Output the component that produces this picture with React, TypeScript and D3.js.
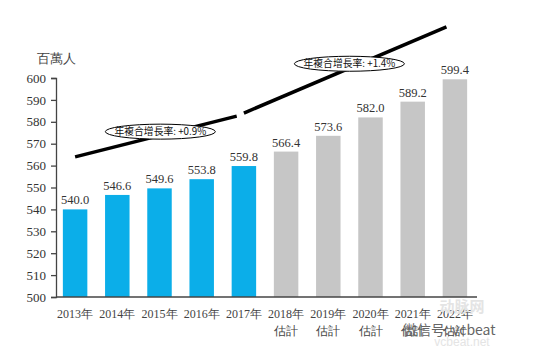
//@ts-nocheck
import React, { useRef, useEffect } from "react";
import * as d3 from "d3";

const years = ["2013年", "2014年", "2015年", "2016年", "2017年", "2018年", "2019年", "2020年", "2021年", "2022年"];
const subLabels = ["", "", "", "", "", "估計", "估計", "估計", "估計", "估計"];
const values = [540.0, 546.6, 549.6, 553.8, 559.8, 566.4, 573.6, 582.0, 589.2, 599.4];
const isEstimate = [false, false, false, false, false, true, true, true, true, true];
const yTicks = [500, 510, 520, 530, 540, 550, 560, 570, 580, 590, 600];

// trend lines, as [category index, value]
const trendActual = [[0, 564], [3.83, 582.6]];
const trendForecast = [[4, 584], [8.8, 623.3]];
const notes = [
  { text: "年複合增長率: +0.9%", at: 2.02, v: 575.5 },
  { text: "年複合增長率: +1.4%", at: 6.5, v: 606.5 },
];

export default function App() {
  const svgRef = useRef(null);

  useEffect(() => {
    const svg = d3.select(svgRef.current);
    svg.selectAll("*").remove();

    const serif = "'Liberation Serif', 'DejaVu Serif', serif";
    const cjk = "'Noto Sans CJK TC', 'Noto Sans CJK SC', sans-serif";

    const x = d3.scaleBand().domain(years).range([54, 476]).paddingInner(0.42).paddingOuter(0.21);
    const y = d3.scaleLinear().domain([500, 600]).range([297, 78]);
    const xi = d3.scaleLinear().domain([0, 9]).range([x(years[0]) + x.bandwidth() / 2, x(years[9]) + x.bandwidth() / 2]);

    // bars
    svg
      .append("g")
      .selectAll("rect")
      .data(values)
      .join("rect")
      .attr("x", (d, i) => x(years[i]))
      .attr("y", (d) => y(d))
      .attr("width", x.bandwidth())
      .attr("height", (d) => y(500) - y(d))
      .attr("fill", (d, i) => (isEstimate[i] ? "#C6C6C6" : "#0BAEE9"));

    svg
      .append("g")
      .selectAll("text")
      .data(values)
      .join("text")
      .attr("x", (d, i) => x(years[i]) + x.bandwidth() / 2)
      .attr("y", (d) => y(d) - 5)
      .attr("text-anchor", "middle")
      .attr("font-family", serif)
      .attr("font-size", 12.5)
      .attr("fill", "#333")
      .text((d) => d.toFixed(1));

    // y axis
    const yAxis = svg
      .append("g")
      .attr("transform", "translate(56,0)")
      .call(d3.axisLeft(y).tickValues(yTicks).tickSize(5).tickPadding(5));
    yAxis.attr("font-family", serif).attr("font-size", 13);
    yAxis.select(".domain").attr("stroke", "#444").attr("stroke-width", 1.3);
    yAxis.selectAll(".tick line").attr("stroke", "#444").attr("stroke-width", 1.3);
    yAxis.selectAll(".tick text").attr("fill", "#333");

    // x axis line
    svg
      .append("line")
      .attr("x1", 56)
      .attr("x2", 477)
      .attr("y1", y(500))
      .attr("y2", y(500))
      .attr("stroke", "#444")
      .attr("stroke-width", 1.3);

    const xl = svg.append("g").attr("font-family", serif).attr("fill", "#444").attr("text-anchor", "middle");
    years.forEach((yr, i) => {
      const cx = x(yr) + x.bandwidth() / 2;
      xl.append("text").attr("x", cx).attr("y", 318).attr("font-size", 12).text(yr);
      if (subLabels[i])
        xl.append("text").attr("x", cx).attr("y", 335).attr("font-size", 11.5).text(subLabels[i]);
    });

    // y title
    svg
      .append("text")
      .attr("x", 56)
      .attr("y", 63)
      .attr("text-anchor", "middle")
      .attr("font-family", serif)
      .attr("font-size", 13)
      .attr("fill", "#444")
      .text("百萬人");

    // trend lines
    const line = d3
      .line()
      .x((d) => xi(d[0]))
      .y((d) => y(d[1]));
    [trendActual, trendForecast].forEach((t) =>
      svg.append("path").attr("d", line(t)).attr("fill", "none").attr("stroke", "#000").attr("stroke-width", 3.5)
    );

    // annotations
    notes.forEach((n) => {
      const g = svg.append("g").attr("transform", `translate(${xi(n.at)},${y(n.v)})`);
      g.append("ellipse").attr("rx", 55).attr("ry", 7.5).attr("fill", "#fff").attr("stroke", "#000").attr("stroke-width", 1);
      g.append("text")
        .attr("y", 3.5)
        .attr("text-anchor", "middle")
        .attr("font-family", cjk)
        .attr("font-size", 9.8)
        .attr("fill", "#111")
        .text(n.text);
    });

    // watermark
    const wm = svg.append("g").style("pointer-events", "none");
    wm.append("text")
      .attr("x", 462)
      .attr("y", 312)
      .attr("text-anchor", "middle")
      .attr("font-family", cjk)
      .attr("font-size", 15)
      .attr("font-weight", "bold")
      .attr("fill", "#e4e4e4")
      .text("动脉网");
    wm.append("text")
      .attr("x", 462)
      .attr("y", 346)
      .attr("text-anchor", "middle")
      .attr("font-family", "'Liberation Sans', sans-serif")
      .attr("font-size", 12)
      .attr("fill", "#e4e4e4")
      .text("vcbeat.net");
    wm.append("text")
      .attr("x", 403)
      .attr("y", 335)
      .attr("font-family", cjk)
      .attr("font-size", 14)
      .attr("fill", "#666")
      .text("微信号: vcbeat");
  }, []);

  return (
    <svg
      ref={svgRef}
      width={550}
      height={351}
      style={{ position: "absolute", left: 0, top: 0, background: "#fff" }}
    />
  );
}
